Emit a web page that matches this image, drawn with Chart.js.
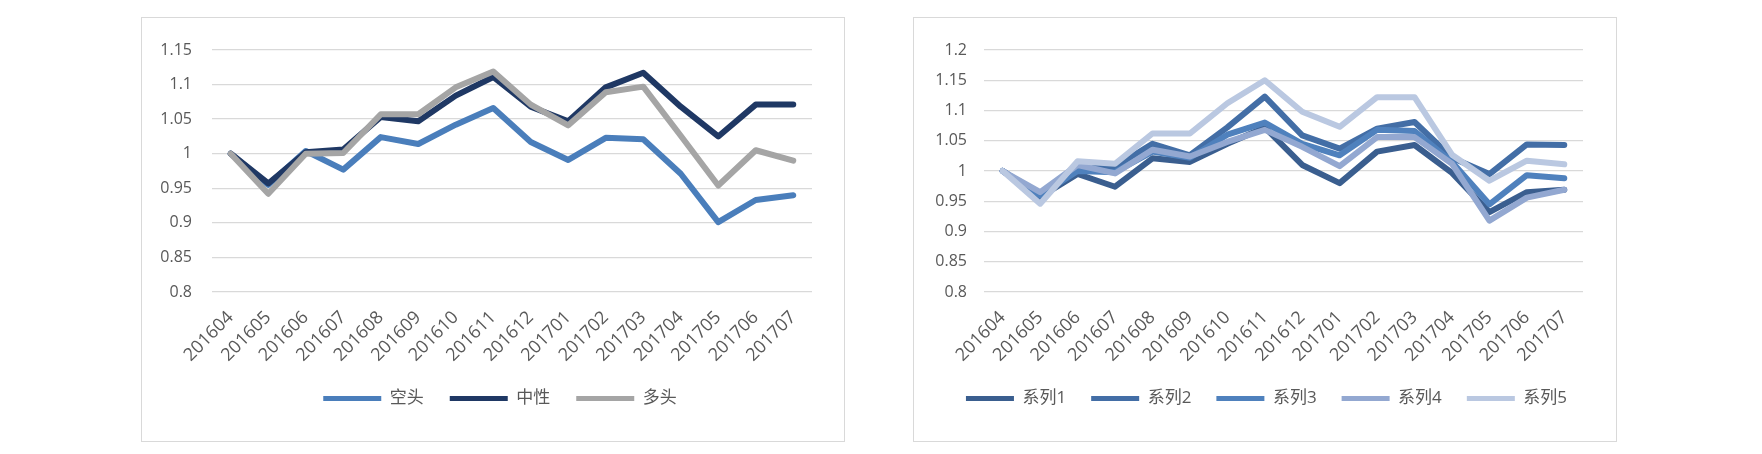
<!DOCTYPE html>
<html><head><meta charset="utf-8">
<script src="https://cdn.jsdelivr.net/npm/chart.js@4"></script>
<style>
html,body{margin:0;padding:0;background:#fff;width:1762px;height:454px;overflow:hidden;}
.box{position:absolute;top:17px;width:702px;height:423px;border:1px solid #d9d9d9;background:#fff;}
#b1{left:141px;} #b2{left:913px;}
canvas{display:block;}
</style></head><body>
<div class="box" id="b1"><canvas id="c1" width="702" height="423"></canvas></div>
<div class="box" id="b2"><canvas id="c2" width="702" height="423"></canvas></div>
<script>
const categories = ['201604','201605','201606','201607','201608','201609','201610','201611','201612','201701','201702','201703','201704','201705','201706','201707'];
const kongtou  = [1.000,0.955,1.004,0.977,1.024,1.014,1.042,1.066,1.017,0.991,1.023,1.021,0.971,0.901,0.933,0.940];
const zhongxing= [1.000,0.957,1.002,1.006,1.053,1.047,1.084,1.111,1.068,1.047,1.096,1.117,1.068,1.025,1.071,1.071];
const duotou   = [1.000,0.942,1.000,1.001,1.057,1.057,1.096,1.119,1.071,1.041,1.089,1.097,1.026,0.954,1.005,0.990];
const s1 = [1.000,0.957,0.995,0.974,1.021,1.015,1.045,1.072,1.010,0.980,1.032,1.043,0.997,0.932,0.965,0.969];
const s2 = [1.000,0.958,1.005,1.007,1.045,1.026,1.072,1.123,1.059,1.037,1.070,1.081,1.022,0.995,1.044,1.043];
const s3 = [1.000,0.960,1.000,0.998,1.032,1.022,1.060,1.080,1.045,1.026,1.068,1.066,1.015,0.945,0.993,0.988];
const s4 = [1.000,0.965,1.010,0.996,1.035,1.024,1.048,1.068,1.040,1.008,1.056,1.056,1.012,0.918,0.956,0.969];
const s5 = [1.000,0.946,1.016,1.012,1.062,1.062,1.112,1.150,1.098,1.073,1.122,1.122,1.027,0.984,1.017,1.011];
const leftTicks = {min:0.8, max:1.15, step:0.05};
const rightTicks = {min:0.8, max:1.2, step:0.05};

const TXT = '#595959';
const FONT = "'Open Sans','Noto Sans CJK SC',sans-serif";

function ds(label, data, color, order){
  return {label, data, borderColor:color, backgroundColor:color, borderWidth:6,
    pointRadius:0, tension:0, borderCapStyle:'round', borderJoinStyle:'round', order, fill:false};
}

const legendShift = {
  id:'legendShift',
  afterLayout(chart, args, o){
    const l = chart.legend;
    if (l && o.dx){ l.left += o.dx; l.right += o.dx; }
  }
};

function makeChart(id, datasets, ticks, opts){
  new Chart(document.getElementById(id), {
    type:'line',
    data:{labels:categories, datasets},
    plugins:[legendShift],
    options:{
      responsive:false, animation:false, devicePixelRatio:1,
      layout:{padding:{top:32, left:0, right:opts.padR, bottom:24}},
      plugins:{
        tooltip:{enabled:false},
        legendShift:{dx:opts.dx},
        legend:{position:'bottom', align:'center',
          labels:{boxWidth:opts.boxW, boxHeight:5, padding:opts.legPad, color:TXT,
            font:{family:FONT, size:17},
            sort:(a,b)=>a.datasetIndex-b.datasetIndex,
            generateLabels:(chart)=>chart.data.datasets.map((d,i)=>({text:d.label, fillStyle:d.borderColor, strokeStyle:d.borderColor, lineWidth:0, datasetIndex:i, fontColor:TXT, hidden:false}))
          }}
      },
      scales:{
        x:{type:'category', offset:true,
          grid:{display:false, drawTicks:false}, border:{display:false},
          ticks:{color:TXT, font:{family:FONT, size:18}, minRotation:45, maxRotation:45, autoSkip:false, padding:15},
          afterFit:(s)=>{s.height=opts.xH;}
        },
        y:{min:ticks.min, max:ticks.max,
          grid:{color:'#d9d9d9', lineWidth:1.3, drawTicks:false}, border:{display:false},
          ticks:{stepSize:ticks.step, color:TXT, font:{family:FONT, size:16}, padding:opts.yPad,
            callback:(v)=>String(Number(v.toFixed(2)))},
          afterFit:(s)=>{s.width=70;}
        }
      }
    }
  });
}

makeChart('c1', [
  ds('空头', kongtou, '#4a7ebb', 3),
  ds('中性', zhongxing, '#1f3864', 2),
  ds('多头', duotou, '#a5a5a5', 1)
], leftTicks, {padR:32, legPad:26, boxW:58, xH:72, yPad:20, dx:23});

makeChart('c2', [
  ds('系列1', s1, '#3a5e8f', 5),
  ds('系列2', s2, '#436ea6', 4),
  ds('系列3', s3, '#4f81bd', 3),
  ds('系列4', s4, '#93a8d1', 2),
  ds('系列5', s5, '#bac8e1', 1)
], rightTicks, {padR:33, legPad:25, boxW:48, xH:73, yPad:17, dx:18});
</script>
</body></html>
